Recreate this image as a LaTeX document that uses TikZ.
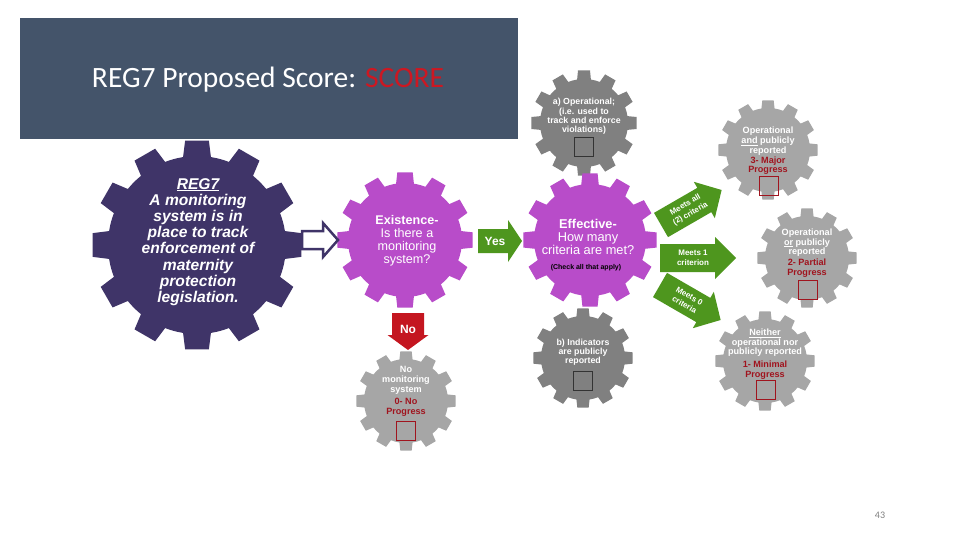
\documentclass[tikz,border=0pt]{standalone}
\usepackage{fontspec}
\setmainfont{Liberation Sans}
\newfontfamily\calib{Carlito}
\usetikzlibrary{calc}

\definecolor{bannerc}{RGB}{68,84,106}
\definecolor{regpurple}{RGB}{63,52,104}
\definecolor{magentag}{RGB}{184,76,201}
\definecolor{darkgreyg}{RGB}{128,128,128}
\definecolor{lightgreyg}{RGB}{166,166,166}
\definecolor{arrowgreen}{RGB}{78,150,30}
\definecolor{arrowred}{RGB}{196,22,32}
\definecolor{scorered}{RGB}{204,24,34}
\definecolor{progred}{RGB}{160,20,30}

\newcommand{\gearfill}[5]{%
  \fill[#4, shift={(#1)}] ({#5-9}:#2)
    \foreach \k in {0,...,11}{
      -- ({#5+\k*30-6.5}:#3) -- ({#5+\k*30+6.5}:#3) -- ({#5+\k*30+9}:#2)
      arc[start angle={#5+\k*30+9}, end angle={#5+\k*30+21}, radius=#2]
    } -- cycle;
}
% #1 tail point, #2 rotation, #3 length, #4 shaft half width, #5 head half width, #6 head length, #7 style
\newcommand{\blockarrow}[7]{%
  \begin{scope}[shift={#1}, rotate=#2]
    \path[#7] (0,-#4) -- ({#3-#6},-#4) -- ({#3-#6},-#5) -- (#3,0)
      -- ({#3-#6},#5) -- ({#3-#6},#4) -- (0,#4) -- cycle;
  \end{scope}}

\tikzset{
  gtext/.style={text=white, align=center, inner sep=0pt},
  smallg/.style={gtext, font=\bfseries\fontsize{9.1}{9.7}\selectfont},
  redsq/.style={draw=progred, line width=0.8pt, minimum size=19pt, inner sep=0pt},
  blacksq/.style={draw=black!80, line width=0.8pt, minimum size=19pt, inner sep=0pt},
  arrowtext/.style={gtext, font=\bfseries\fontsize{8}{10}\selectfont},
  greenfill/.style={fill=arrowgreen},
}

\begin{document}
\begin{tikzpicture}[x=1pt,y=-1pt]
\useasboundingbox (0,0) rectangle (960,540);
\fill[white] (0,0) rectangle (960,540);

% gear centres
\coordinate (cReg) at (197,245);
\coordinate (cExist) at (405,240);
\coordinate (cEff) at (590,240);
\coordinate (cOpA) at (584,123);
\coordinate (cIndB) at (583,358);
\coordinate (cNo) at (406,401);
\coordinate (cMajor) at (768,150);
\coordinate (cPartial) at (807,258);
\coordinate (cMinimal) at (765,361);

% gears
\gearfill{cReg}{89}{105}{regpurple}{0}
\gearfill{cOpA}{44}{53}{darkgreyg}{0}
\gearfill{cIndB}{42}{50}{darkgreyg}{0}
\gearfill{cExist}{57}{68}{magentag}{0}
\gearfill{cEff}{56}{67}{magentag}{0}
\gearfill{cNo}{42}{50}{lightgreyg}{0}
\gearfill{cMajor}{42}{50}{lightgreyg}{0}
\gearfill{cPartial}{42}{50}{lightgreyg}{0}
\gearfill{cMinimal}{42}{50}{lightgreyg}{0}

% texts
\node[gtext, font=\bfseries\itshape\fontsize{15.6}{16.2}\selectfont] (regtext) at (198,242)
  {\underline{REG7}\\A monitoring\\system is in\\place to track\\enforcement of\\maternity\\protection\\legislation.};
\node[gtext, font=\fontsize{12.6}{13}\selectfont] (existtext) at (407,241)
  {\textbf{Existence-}\\Is there a\\monitoring\\system?};
\node[gtext, font=\fontsize{12.8}{13}\selectfont] (efftext) at (588,237)
  {\textbf{Effective-}\\How many\\criteria are met?};
\node[inner sep=0pt, font=\bfseries\fontsize{7}{8}\selectfont] (checktext) at (586,268) {(Check all that apply)};

\node[smallg, font=\bfseries\fontsize{8.8}{9.2}\selectfont] (optext) at (584,116.5)
  {a) Operational;\\(i.e. used to\\track and enforce\\violations)};
\node[blacksq] (opsq) at (584,147) {};

\node[smallg, font=\bfseries\fontsize{8.8}{9.2}\selectfont] (indtext) at (583,352)
  {b) Indicators\\are publicly\\reported};
\node[blacksq] (indsq) at (583,381) {};

\node[smallg] (majortext) at (768,151)
  {Operational\\\underline{and} publicly\\reported\\\textcolor{progred}{3- Major}\\\textcolor{progred}{Progress}};
\node[redsq] (majorsq) at (769,186) {};

\node[smallg] (partialtext) at (807,253)
  {Operational\\\underline{or} publicly\\reported\\[1pt]\textcolor{progred}{2- Partial}\\\textcolor{progred}{Progress}};
\node[redsq] (partialsq) at (808,290) {};

\node[smallg] (minimaltext) at (765,354)
  {\underline{Neither}\\operational nor\\publicly reported\\[3pt]\textcolor{progred}{1- Minimal}\\\textcolor{progred}{Progress}};
\node[redsq] (minimalsq) at (766,390) {};

\node[smallg] (notext) at (406,391.5)
  {No\\monitoring\\system\\[3pt]\textcolor{progred}{0- No}\\\textcolor{progred}{Progress}};
\node[redsq] (nosq) at (406,431) {};

% arrows
\blockarrow{(302,240)}{0}{36}{9}{17}{15}{draw=regpurple, line width=2.5pt, fill=white, line join=miter}
\blockarrow{(478,241)}{0}{44}{12}{21}{14}{greenfill}
\node[gtext, font=\bfseries\fontsize{12}{12}\selectfont] (yestext) at (495,241) {Yes};

\blockarrow{(408,313)}{-90}{37}{16}{20.5}{15}{fill=arrowred}
\node[gtext, font=\bfseries\fontsize{12}{12}\selectfont] (notextarrow) at (408,329) {No};

\blockarrow{(661,225)}{30}{70}{14}{21}{20}{greenfill}
\node[arrowtext, rotate=30] (meetsall) at (688,209.5) {Meets all\\(2) criteria};
\blockarrow{(660,258)}{0}{76}{14}{21}{21}{greenfill}
\node[arrowtext] (meets1) at (693,258) {Meets 1\\criterion};
\blockarrow{(660,285)}{-30}{70}{14}{21}{20}{greenfill}
\node[arrowtext, rotate=-30] (meets0) at (687,300.5) {Meets 0\\criteria};

% banner
\fill[bannerc] (20,18) rectangle (518,139);
\node[text=white, font=\calib\fontsize{29.5}{32}\selectfont, inner sep=0pt] (title) at (268,80)
  {REG7 Proposed Score: \textcolor{scorered}{SCORE}};

\node[text=gray, font=\calib\fontsize{10}{12}\selectfont, inner sep=0pt] (pagenum) at (880,515) {43};
\end{tikzpicture}
\end{document}
